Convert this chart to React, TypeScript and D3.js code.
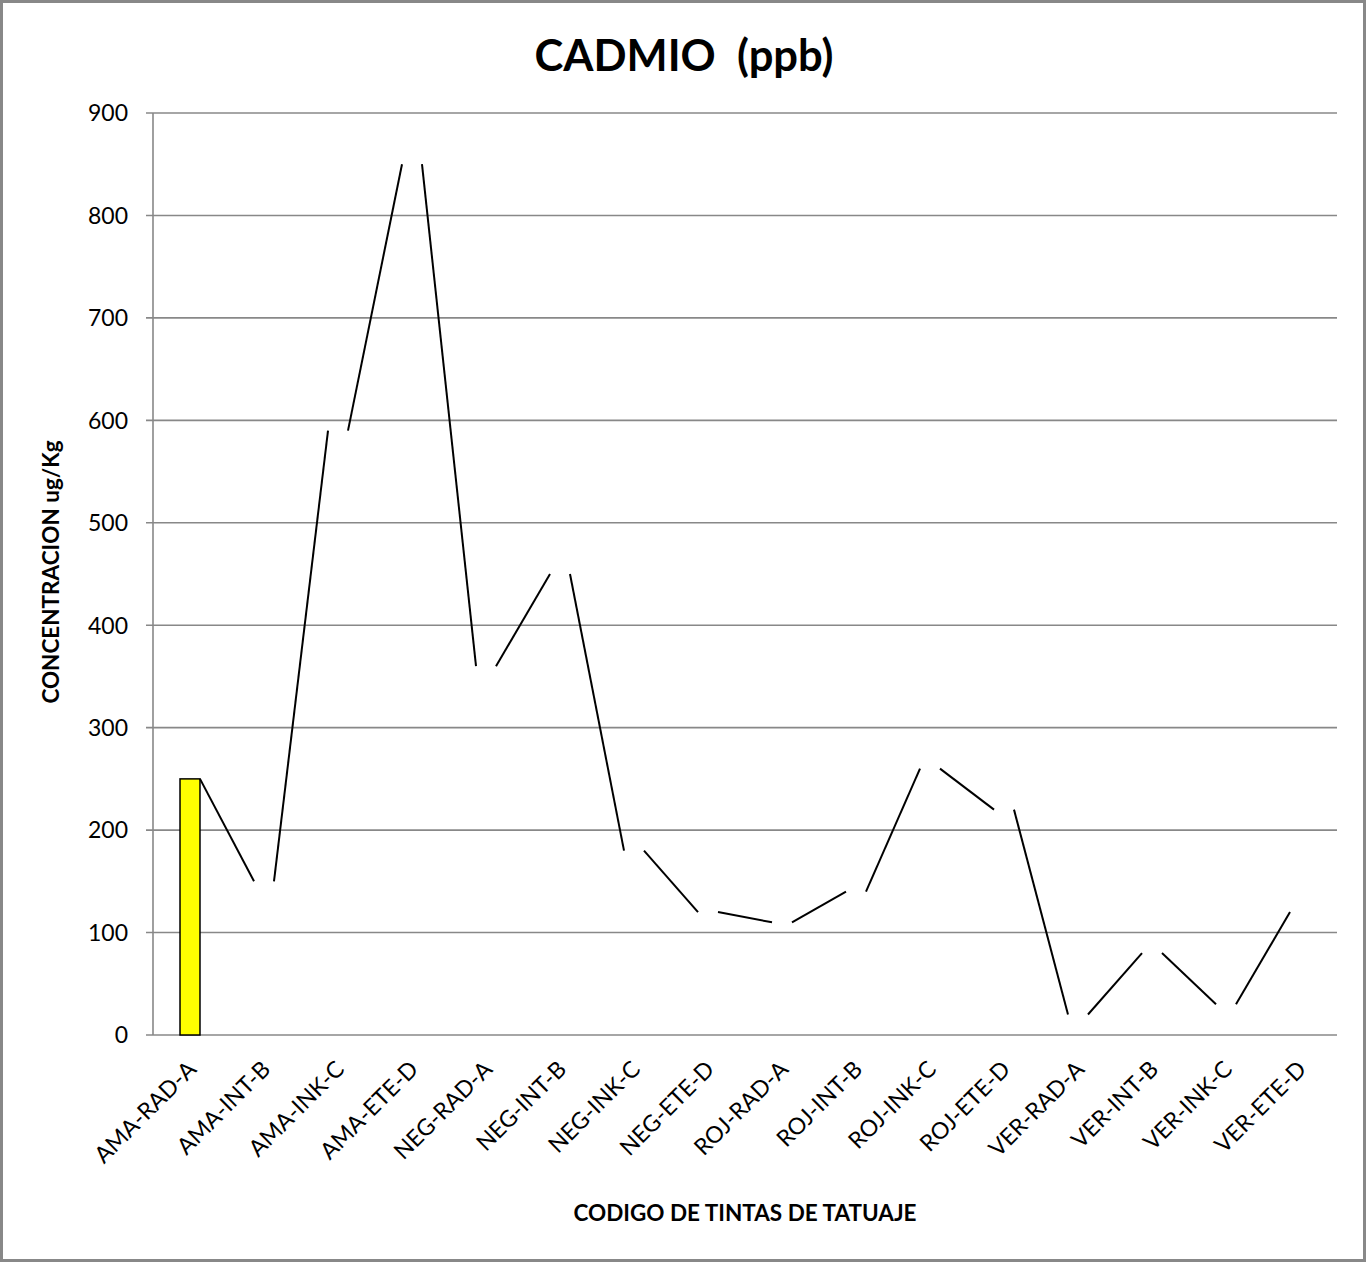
import React from "react";
import * as d3 from "d3";

// Cadmium concentration per tattoo-ink code
const categories = [
  "AMA-RAD-A", "AMA-INT-B", "AMA-INK-C", "AMA-ETE-D",
  "NEG-RAD-A", "NEG-INT-B", "NEG-INK-C", "NEG-ETE-D",
  "ROJ-RAD-A", "ROJ-INT-B", "ROJ-INK-C", "ROJ-ETE-D",
  "VER-RAD-A", "VER-INT-B", "VER-INK-C", "VER-ETE-D",
];
const values = [250, 150, 590, 850, 360, 450, 180, 120, 110, 140, 260, 220, 20, 80, 30, 120];
const yTicks = [0, 100, 200, 300, 400, 500, 600, 700, 800, 900];

const W = 1367;
const H = 1263;
const FONT = "Lato, 'Open Sans', sans-serif";

export default function App() {
  const left = 153, right = 1337, top = 113, bottom = 1035;
  const x = d3.scaleBand<string>()
    .domain(categories)
    .range([left, right])
    .paddingInner(0.73)
    .paddingOuter(0.365);
  const y = d3.scaleLinear().domain([0, 900]).range([bottom, top]);
  const bw = x.bandwidth();

  // series lines: top-right corner of one bar to top-left corner of the next
  const links = values.slice(0, -1).map((v, i) => ({
    x1: (x(categories[i]) as number) + bw,
    y1: y(v),
    x2: x(categories[i + 1]) as number,
    y2: y(values[i + 1]),
  }));

  return (
    <svg width={W} height={H} style={{ position: "absolute", left: 0, top: 0, background: "#fff" }} fontFamily={FONT}>
      <rect x={1.5} y={1.5} width={W - 4} height={H - 4} fill="#fff" stroke="#888" strokeWidth={3} />

      <text x={684} y={71} textAnchor="middle" fontSize={43.5} fontWeight={700} fill="#000" style={{ whiteSpace: "pre" }}>
        {"CADMIO  (ppb)"}
      </text>

      {/* gridlines and y ticks */}
      {yTicks.map((t) => (
        <g key={t}>
          <line x1={left - 7} x2={right} y1={y(t)} y2={y(t)} stroke="#888" strokeWidth={1.6} />
          <text x={128} y={y(t)} dy="0.36em" textAnchor="end" fontSize={23} fill="#000">
            {t}
          </text>
        </g>
      ))}
      <line x1={left} x2={left} y1={top} y2={bottom} stroke="#888" strokeWidth={1.6} />

      {/* only the first bar is filled */}
      <rect
        x={x(categories[0])}
        y={y(values[0])}
        width={bw}
        height={bottom - y(values[0])}
        fill="#FFFF00"
        stroke="#000"
        strokeWidth={1.5}
      />

      {links.map((l, i) => (
        <line key={i} x1={l.x1} y1={l.y1} x2={l.x2} y2={l.y2} stroke="#000" strokeWidth={2} />
      ))}

      {categories.map((c) => {
        const cx = (x(c) as number) + bw / 2;
        return (
          <text
            key={c}
            transform={`translate(${cx + 2},${1065}) rotate(-45)`}
            textAnchor="end"
            dy="0.35em"
            fontSize={23}
            fill="#000"
          >
            {c}
          </text>
        );
      })}

      <text x={745} y={1221} textAnchor="middle" fontSize={22.5} fontWeight={700} fill="#000">
        CODIGO DE TINTAS DE TATUAJE
      </text>

      <text
        transform={`translate(59,${572}) rotate(-90)`}
        textAnchor="middle"
        fontSize={22.5}
        fontWeight={700}
        fill="#000"
      >
        CONCENTRACION ug/Kg
      </text>
    </svg>
  );
}
